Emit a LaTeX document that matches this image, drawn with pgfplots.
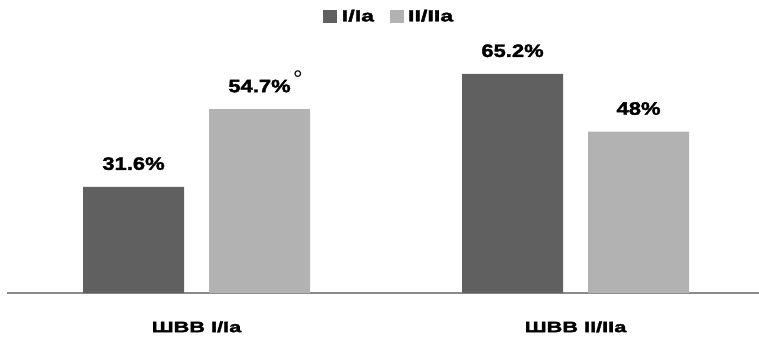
\documentclass[border=0pt]{standalone}
\usepackage{fontspec}
\usepackage{pgfplots}
\pgfplotsset{compat=1.18}
\setmainfont{Liberation Sans}
\newfontfamily\blk{Liberation Sans}[UprightFont={* Bold}, FakeBold=2, FakeStretch=1.22]
\newfontfamily\blkw{Liberation Sans}[UprightFont={* Bold}, FakeBold=2.4, FakeStretch=1.45]

\definecolor{darkbar}{HTML}{606060}
\definecolor{lightbar}{HTML}{B2B2B2}
\definecolor{baseline}{HTML}{8A8A8A}

\newcommand{\degmark}{\rlap{\kern2.5pt\raisebox{4.5pt}{\rmfamily\fontsize{24}{24}\selectfont °}}}

\begin{document}
\begin{tikzpicture}[x=1pt,y=1pt]
\useasboundingbox (-7,-45) rectangle (752,293);
\begin{axis}[
  at={(0,0)}, anchor=south west,
  scale only axis,
  width=752pt, height=253pt,
  xmin=-0.5, xmax=1.484,
  ymin=0, ymax=75.3,
  ybar=25pt, bar width=101pt,
  xtick={0,1},
  xticklabels={ШВВ I/Ia, ШВВ II/IIa},
  xtick style={draw=none},
  xticklabel style={font=\blkw\fontsize{15}{17}\selectfont, anchor=base, yshift=-37pt},
  ytick=\empty,
  axis x line=bottom,
  axis y line=none,
  x axis line style={-, draw=baseline, line width=1.5pt},
  point meta=explicit symbolic,
  nodes near coords={\pgfplotspointmeta},
  nodes near coords style={font=\blk\fontsize{18}{20}\selectfont, anchor=base, inner sep=0pt, yshift=17pt, text=black},
  legend columns=2,
  legend style={at={(0.51,1)}, anchor=south, yshift=13pt, draw=none, fill=none,
    font=\blkw\fontsize{16}{18}\selectfont,
    nodes={inner xsep=4.5pt},
    /tikz/every even column/.append style={column sep=11pt}},
  legend image code/.code={\fill[#1] (0pt,-6.5pt) rectangle (14pt,6.5pt);},
  clip=false,
]
\addplot[fill=darkbar, draw=none] coordinates {
  (0,31.6) [31.6\%]
  (1,65.2) [65.2\%]
};
\addplot[fill=lightbar, draw=none] coordinates {
  (0,54.7) [54.7\%\degmark]
  (1,48) [48\%]
};
\legend{I/Ia, II/IIa}
\end{axis}
\end{tikzpicture}
\end{document}
